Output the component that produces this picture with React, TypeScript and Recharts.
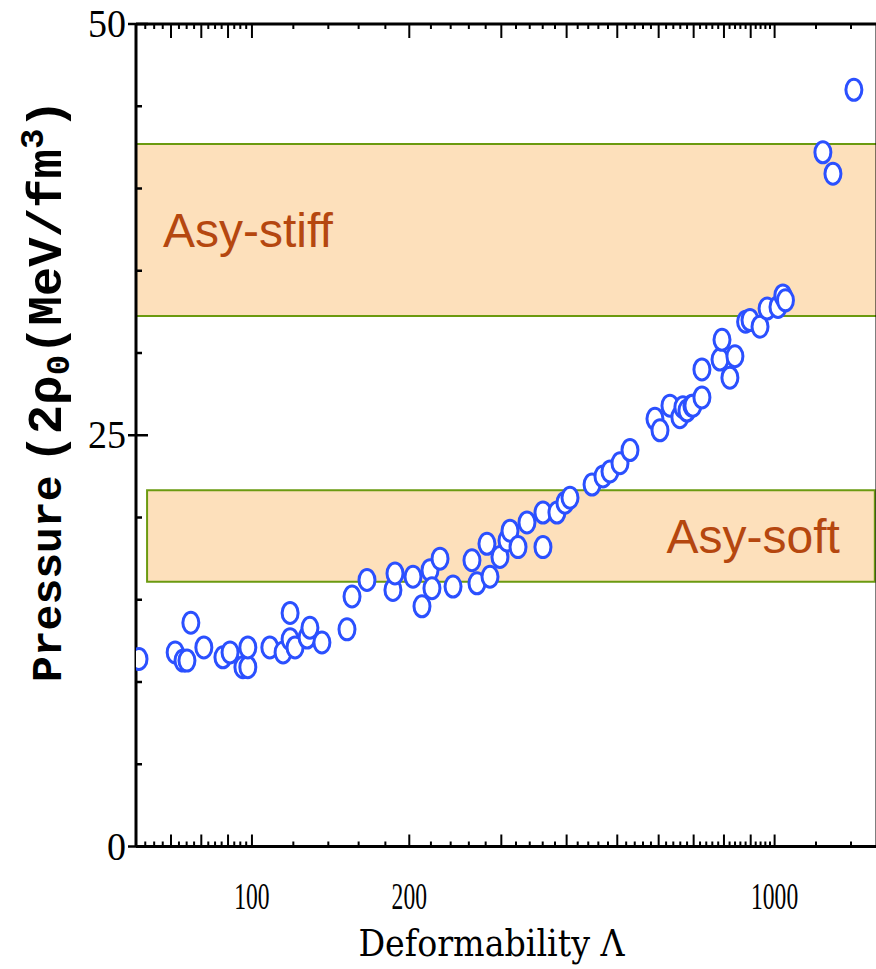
import React from "react";
import { ScatterChart, Scatter, XAxis, YAxis, ReferenceArea } from "recharts";

// tidal deformability Λ of each EOS model
const lambdaValues = [
  60.8, 71.3, 73.8, 75.1, 76.4, 80.9, 88.0, 90.8, 96.1, 98.2, 98.2, 108.2, 114.7, 118.3, 118.3,
  120.9, 127.5, 129.1, 136.1, 152.0, 155.4, 166.0, 186.1, 187.8, 203.3, 211.5, 219.1, 221.0,
  229.0, 242.5, 263.6, 269.5, 281.6, 285.4, 298.2, 307.6, 311.7, 322.9, 335.9, 360.4, 360.4,
  383.3, 397.1, 406.0, 447.4, 469.5, 484.2, 506.0, 528.8, 590.3, 603.5, 630.6, 658.8, 667.6,
  679.6, 694.7, 697.8, 726.0, 726.0, 786.2, 793.1, 821.2, 839.6, 880.0, 897.2, 937.7, 967.4,
  1015, 1037, 1049, 1237, 1293, 1418,
];

// pressure at twice saturation density, MeV/fm^3
const pressureValues = [
  11.4, 11.8, 11.3, 11.3, 13.6, 12.1, 11.5, 11.8, 10.9, 10.9, 12.1, 12.1, 11.8, 14.2, 12.6,
  12.1, 12.7, 13.3, 12.4, 13.2, 15.2, 16.2, 15.6, 16.6, 16.4, 14.6, 16.8, 15.7,
  17.5, 15.8, 17.4, 16.0, 18.4, 16.4, 17.6, 18.6, 19.2, 18.2, 19.7, 20.3, 18.2,
  20.3, 20.9, 21.2, 22.0, 22.5, 22.8, 23.3, 24.1, 26.0, 25.3, 26.8, 26.1, 26.7,
  26.5, 26.8, 26.8, 29.0, 27.3, 29.6, 30.8, 28.5, 29.8, 31.9, 32.0, 31.6, 32.7,
  32.8, 33.5, 33.2, 42.2, 40.9, 46.0,
];

const points = lambdaValues.map((x, i) => ({ x, y: pressureValues[i] }));

// log axis: labelled values, longer ticks, short ticks
const xTickLabels = [100, 200, 1000];
const xMajorTicks = [60, 70, 80, 90, 100, 200, 300, 400, 500, 600, 700, 800, 900, 1000];
const xMinorTicks = [
  62.5, 65, 67.5, 72.5, 75, 77.5, 82.5, 85, 87.5, 92.5, 95, 97.5,
  120, 140, 160, 180, 220, 240, 260, 280, 320, 340, 360, 380, 420, 440, 460, 480,
  520, 540, 560, 580, 620, 640, 660, 680, 720, 740, 760, 780, 820, 840, 860, 880,
  920, 940, 960, 980, 1200, 1400,
];
const xTicks = [...xMajorTicks, ...xMinorTicks].sort((a, b) => a - b);

const yTicks = [0, 5, 10, 15, 20, 25, 30, 35, 40, 45, 50];
const yTickLabels = [0, 25, 50];

// constraint bands (pressure range)
const asyStiff = [32.25, 42.7];
const asySoft = [16.1, 21.65];
const asySoftLambda = [63, 1555];

const X_DOMAIN: [number, number] = [60, 1570];
const AXIS = "#000";
const BAND_FILL = "#fde0bb";
const BAND_EDGE = "#6b9a10";
const BAND_TEXT = "#b5470f";
const RING = "#2b50ff";
const SERIF = "'Liberation Serif', 'DejaVu Serif', serif";
const TITLE_SERIF = "'DejaVu Serif', 'Liberation Serif', serif";
const MONO = "'Liberation Mono', 'DejaVu Sans Mono', monospace";
const SANS = "'Liberation Sans', Arial, sans-serif";

function BottomTick(props: any) {
  const { x, y, payload } = props;
  const v = payload.value;
  const len = xMajorTicks.includes(v) ? 12 : 5;
  return (
    <g>
      <line x1={x} x2={x} y1={y} y2={y - len} stroke={AXIS} strokeWidth={2} />
      {xTickLabels.includes(v) && (
        <text
          transform={`translate(${x},${y + 62}) scale(0.62,1)`}
          textAnchor="middle"
          fontFamily={SERIF}
          fontSize={38}
          fill="#000"
        >
          {v}
        </text>
      )}
    </g>
  );
}

function TopTick(props: any) {
  const { x, y, payload } = props;
  const len = xMajorTicks.includes(payload.value) ? 14 : 5;
  return <line x1={x} x2={x} y1={y} y2={y + len} stroke={AXIS} strokeWidth={2} />;
}

function LeftTick(props: any) {
  const { x, y, payload } = props;
  const v = payload.value;
  const major = yTickLabels.includes(v);
  return (
    <g>
      <line x1={major ? x - 8 : x} x2={x + (major ? 12 : 6)} y1={y} y2={y} stroke={AXIS} strokeWidth={2.5} />
      {major && (
        <text
          transform={`translate(${x - 10},${y + 13}) scale(0.95,1)`}
          textAnchor="end"
          fontFamily={SERIF}
          fontSize={40}
          fill="#000"
        >
          {v}
        </text>
      )}
    </g>
  );
}

function RightTick(props: any) {
  const { x, y, payload } = props;
  const len = yTickLabels.includes(payload.value) ? 12 : 6;
  return <line x1={x} x2={x - len} y1={y} y2={y} stroke={AXIS} strokeWidth={2.5} />;
}

function Ring(props: any) {
  const { cx, cy } = props;
  return <ellipse cx={cx} cy={cy} rx={8} ry={10.5} fill="#fff" stroke={RING} strokeWidth={3} />;
}

function XTitle(props: any) {
  const { viewBox } = props;
  const cx = viewBox.x + viewBox.width / 2 - 15;
  return (
    <text
      transform={`translate(${cx},${viewBox.y + 109}) scale(0.9,1)`}
      textAnchor="middle"
      fontFamily={TITLE_SERIF}
      fontSize={37}
      fill="#000"
    >
      Deformability Λ
    </text>
  );
}

function YTitle(props: any) {
  const { viewBox } = props;
  const bx = viewBox.x + viewBox.width - 75;
  const by = 682;
  return (
    <text
      transform={`translate(${bx},${by}) rotate(-90)`}
      fontFamily={MONO}
      fill="#000"
      fontWeight="bold"
    >
      <tspan fontSize={43}>Pressure</tspan>
      <tspan fontSize={49} dx={12}>(2ρ</tspan>
      <tspan fontSize={34} dy={8}>0</tspan>
      <tspan fontSize={49} dy={-8}>(MeV/fm</tspan>
      <tspan fontSize={34} dy={-18}>3</tspan>
      <tspan fontSize={49} dy={18}>)</tspan>
    </text>
  );
}

export default function App() {
  return (
    <div style={{ position: "absolute", left: 0, top: 0, background: "#fff" }}>
      <ScatterChart
        width={876}
        height={969}
        margin={{ top: 14, right: -11, bottom: 92.5, left: 76 }}
      >
        <ReferenceArea
          xAxisId="bottom"
          yAxisId="left"
          y1={asyStiff[0]}
          y2={asyStiff[1]}
          fill={BAND_FILL}
          fillOpacity={1}
          stroke={BAND_EDGE}
          strokeWidth={2}
          ifOverflow="hidden"
          label={{
            value: "Asy-stiff",
            position: "insideLeft",
            offset: 27,
            fill: BAND_TEXT,
            fontSize: 48,
            fontFamily: SANS,
          }}
        />
        <ReferenceArea
          xAxisId="bottom"
          yAxisId="left"
          x1={asySoftLambda[0]}
          x2={asySoftLambda[1]}
          y1={asySoft[0]}
          y2={asySoft[1]}
          fill={BAND_FILL}
          fillOpacity={1}
          stroke={BAND_EDGE}
          strokeWidth={2}
          label={{
            value: "Asy-soft",
            position: "insideRight",
            offset: 35,
            fill: BAND_TEXT,
            fontSize: 48,
            fontFamily: SANS,
          }}
        />
        <XAxis
          xAxisId="bottom"
          type="number"
          dataKey="x"
          scale="log"
          domain={X_DOMAIN}
          allowDataOverflow
          ticks={xTicks}
          interval={0}
          height={30}
          tickSize={0}
          tickMargin={0}
          tickLine={false}
          tick={<BottomTick />}
          axisLine={{ stroke: AXIS, strokeWidth: 3 }}
          label={<XTitle />}
        />
        <XAxis
          xAxisId="top"
          orientation="top"
          type="number"
          dataKey="x"
          scale="log"
          domain={X_DOMAIN}
          allowDataOverflow
          ticks={xTicks}
          interval={0}
          height={10}
          tickSize={0}
          tickMargin={0}
          tickLine={false}
          tick={<TopTick />}
          axisLine={{ stroke: AXIS, strokeWidth: 3 }}
        />
        <YAxis
          yAxisId="left"
          type="number"
          dataKey="y"
          domain={[0, 50]}
          ticks={yTicks}
          interval={0}
          width={60}
          tickSize={0}
          tickMargin={0}
          tickLine={false}
          tick={<LeftTick />}
          axisLine={{ stroke: AXIS, strokeWidth: 3 }}
          label={<YTitle />}
        />
        <YAxis
          yAxisId="right"
          orientation="right"
          type="number"
          dataKey="y"
          domain={[0, 50]}
          ticks={yTicks}
          interval={0}
          width={10}
          tickSize={0}
          tickMargin={0}
          tickLine={false}
          tick={<RightTick />}
          axisLine={{ stroke: AXIS, strokeWidth: 3 }}
        />
        <Scatter
          xAxisId="bottom"
          yAxisId="left"
          data={points}
          shape={<Ring />}
          isAnimationActive={false}
        />
      </ScatterChart>
    </div>
  );
}
